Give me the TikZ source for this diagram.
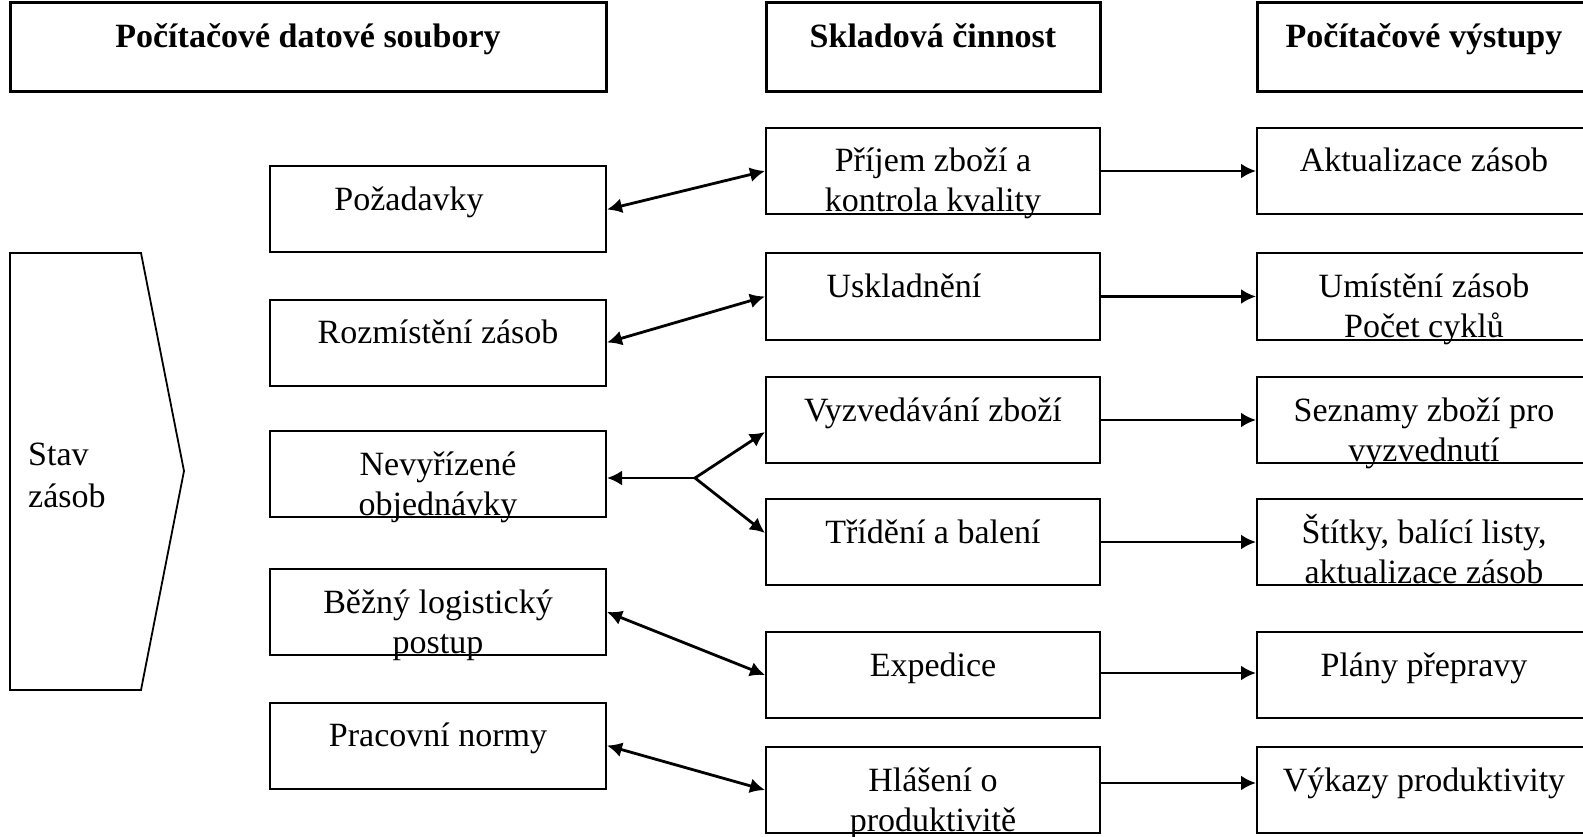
\documentclass[tikz,border=0pt]{standalone}
\usepackage{fontspec}
\setmainfont{Liberation Serif}
\usetikzlibrary{arrows.meta,calc}
\begin{document}
\begin{tikzpicture}[x=1pt,y=-1pt,
  box/.style={draw, line width=2pt, inner sep=0pt, minimum height=86pt},
  hbox/.style={draw, line width=3pt, inner sep=0pt, minimum height=89pt},
  lcol/.style={box, minimum width=336pt},
  mcol/.style={box, minimum width=334pt},
  rcol/.style={box, minimum width=334pt},
  txt/.style={inner sep=0pt, align=center, anchor=base, font=\fontsize{34}{40}\selectfont},
  htxt/.style={txt, font=\fontsize{34}{40}\selectfont\bfseries},
  arr/.style={line width=2.8pt, -{Latex[length=15pt,width=15pt]}},
  darr/.style={line width=2.8pt, {Latex[length=15pt,width=15pt]}-{Latex[length=15pt,width=15pt]}}
]
\useasboundingbox (0,0) rectangle (1583,837);
\clip (0,0) rectangle (1583,837);

% headers
\node[hbox, minimum width=596pt] (H1) at (308,47.5) {};
\node[hbox, minimum width=334pt] (H2) at (933,47.5) {};
\node[hbox, minimum width=334pt] (H3) at (1424,47.5) {};
\node[htxt] (tH1) at ($(H1.north)+(0,46)$) {Počítačové datové soubory};
\node[htxt] (tH2) at ($(H2.north)+(0,46)$) {Skladová činnost};
\node[htxt] (tH3) at ($(H3.north)+(0,46)$) {Počítačové výstupy};

% left column
\node[lcol] (L1) at (438,209.5) {};
\node[lcol] (L2) at (438,342.5) {};
\node[lcol] (L3) at (438,474) {};
\node[lcol] (L4) at (438,612) {};
\node[lcol] (L5) at (438,745.5) {};
\node[txt] (tL1) at ($(L1.north)+(-29,45)$) {Požadavky};
\node[txt] (tL2) at ($(L2.north)+(0,45)$) {Rozmístění zásob};
\node[txt] (tL3) at ($(L3.north)+(0,85)$) {Nevyřízené\\objednávky};
\node[txt] (tL4) at ($(L4.north)+(0,85)$) {Běžný logistický\\postup};
\node[txt] (tL5) at ($(L5.north)+(0,45)$) {Pracovní normy};

% middle column
\node[mcol] (M1) at (933,171) {};
\node[mcol] (M2) at (933,296.5) {};
\node[mcol] (M3) at (933,420) {};
\node[mcol] (M4) at (933,542) {};
\node[mcol] (M5) at (933,675) {};
\node[mcol] (M6) at (933,790) {};
\node[txt] (tM1) at ($(M1.north)+(0,85)$) {Příjem zboží a\\kontrola kvality};
\node[txt] (tM2) at ($(M2.north)+(-29,45)$) {Uskladnění};
\node[txt] (tM3) at ($(M3.north)+(0,45)$) {Vyzvedávání zboží};
\node[txt] (tM4) at ($(M4.north)+(0,45)$) {Třídění a balení};
\node[txt] (tM5) at ($(M5.north)+(0,45)$) {Expedice};
\node[txt] (tM6) at ($(M6.north)+(0,85)$) {Hlášení o\\produktivitě};

% right column
\node[rcol] (R1) at (1424,171) {};
\node[rcol] (R2) at (1424,296.5) {};
\node[rcol] (R3) at (1424,420) {};
\node[rcol] (R4) at (1424,542) {};
\node[rcol] (R5) at (1424,675) {};
\node[rcol] (R6) at (1424,790) {};
\node[txt] (tR1) at ($(R1.north)+(0,45)$) {Aktualizace zásob};
\node[txt] (tR2) at ($(R2.north)+(0,85)$) {Umístění zásob\\Počet cyklů};
\node[txt] (tR3) at ($(R3.north)+(0,85)$) {Seznamy zboží pro\\vyzvednutí};
\node[txt] (tR4) at ($(R4.north)+(0,85)$) {Štítky, balící listy,\\aktualizace zásob};
\node[txt] (tR5) at ($(R5.north)+(0,45)$) {Plány přepravy};
\node[txt] (tR6) at ($(R6.north)+(0,45)$) {Výkazy produktivity};

% Stav zásob pentagon arrow
\draw[line width=1.8pt] (10,253) -- (141,253) -- (184,471) -- (141,690) -- (10,690) -- cycle;
\node[inner sep=0pt, align=left, anchor=base west, font=\fontsize{34}{42}\selectfont] (stav) at (28,507) {Stav\\zásob};

% connectors left <-> middle
\draw[darr] (L1.east) -- (M1.west);
\draw[darr] (L2.east) -- (M2.west);
\coordinate (br) at (695,478);
\draw[arr] (br) -- (br -| L3.east);
\draw[arr] (br) -- ([yshift=-12pt]M3.west);
\draw[arr] (br) -- ([yshift=9pt]M4.west);
\draw[darr] (L4.east) -- (M5.west);
\draw[darr] (L5.east) -- (M6.west);

% middle -> right
\draw[arr] (M1.east) -- (R1.west);
\draw[arr] (M2.east) -- (R2.west);
\draw[arr] (M3.east) -- (R3.west);
\draw[arr] (M4.east) -- (R4.west);
\draw[arr] ([yshift=2pt]M5.east) -- ([yshift=2pt]R5.west);
\draw[arr] ([yshift=7pt]M6.east) -- ([yshift=7pt]R6.west);
\end{tikzpicture}
\end{document}
